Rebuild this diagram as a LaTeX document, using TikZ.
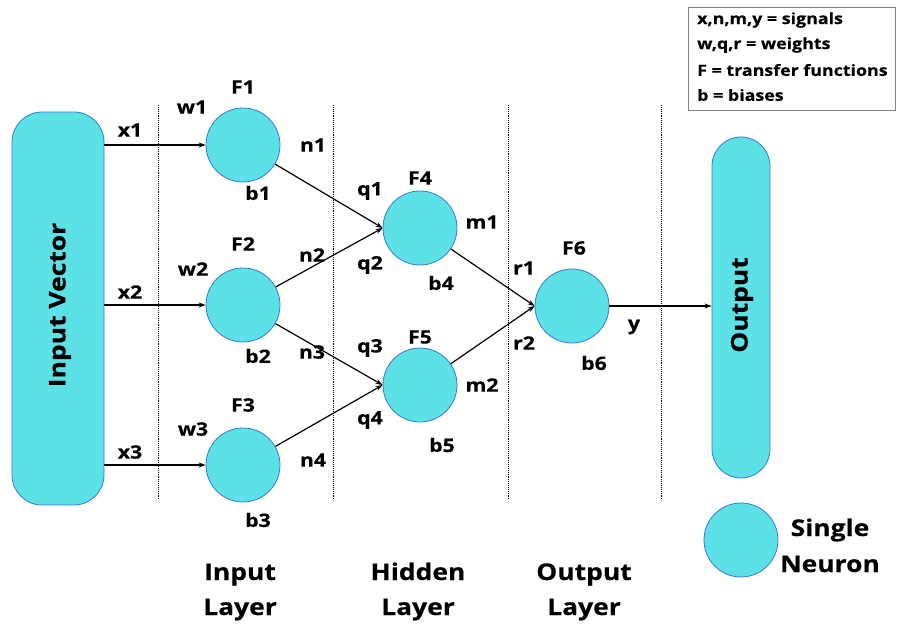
\documentclass[tikz,border=0pt]{standalone}
\usepackage{fontspec}
\setmainfont[FakeStretch=1.15,BoldFeatures={FakeBold=0.4}]{Open Sans}
\usetikzlibrary{arrows.meta}
\definecolor{neu}{HTML}{5CE1E6}
\definecolor{edge}{HTML}{3A78D0}
\begin{document}
\begin{tikzpicture}[x=1pt,y=-1pt,
  neuron/.style={circle,fill=neu,draw=edge,line width=0.8pt,minimum size=74pt,inner sep=0pt},
  lbl/.style={font=\bfseries\fontsize{18.5}{21}\selectfont,inner sep=0pt},
  leg/.style={font=\bfseries\fontsize{15.5}{19}\selectfont,inner sep=0pt},
  big/.style={font=\bfseries\fontsize{23}{26}\selectfont,inner sep=0pt},
  conn/.style={line width=1.2pt,-{Stealth[length=7pt,width=5pt]}},
  sep/.style={densely dotted,line width=0.9pt},
  box/.style={fill=neu,draw=edge,line width=0.8pt}]
\useasboundingbox (0,0) rectangle (897,624);
% legend box
\node[draw=gray,line width=0.8pt,minimum width=207pt,minimum height=103pt,inner sep=0pt] (leg) at (791.5,58.5) {};
\node[leg,anchor=west] (l1) at (697,20) {x,n,m,y = signals};
\node[leg,anchor=west] (l2) at (697,45) {w,q,r = weights};
\node[leg,anchor=west] (l3) at (697,70) {F = transfer functions};
\node[leg,anchor=west] (l4) at (697,95) {b = biases};
% separators
\foreach \x/\n in {158/s1,333/s2,508/s3,661/s4}{
  \coordinate (\n a) at (\x,105); \coordinate (\n b) at (\x,500);
  \draw[sep] (\n a) -- (\n b);}
% input vector
\node[box,rounded corners=30pt,minimum width=92pt,minimum height=393pt,inner sep=0pt] (in) at (58,308.5) {};
\node[big,rotate=90] (inT) at (60,305) {Input Vector};
% output
\node[box,rounded corners=29pt,minimum width=58pt,minimum height=341pt,inner sep=0pt] (out) at (741,307.5) {};
\node[big,rotate=90] (outT) at (742,305) {Output};
% neurons
\node[neuron] (F1) at (243,145) {};
\node[neuron] (F2) at (243,305) {};
\node[neuron] (F3) at (243,465) {};
\node[neuron] (F4) at (420,228) {};
\node[neuron] (F5) at (420,385) {};
\node[neuron] (F6) at (572,306) {};
\node[neuron] (L) at (741,540) {};
\node[big,anchor=base] (Lt1) at (830,536) {Single};
\node[big,anchor=base] (Lt2) at (830,572) {Neuron};
% connectors
\coordinate (i1) at (104,145); \coordinate (i2) at (104,305); \coordinate (i3) at (104,465);
\draw[conn] (i1) -- (F1.west);
\draw[conn] (i2) -- (F2.west);
\draw[conn] (i3) -- (F3.west);
\draw[conn] (F1) -- (F4.west);
\draw[conn] (F2) -- (F4.west);
\draw[conn] (F2) -- (F5.west);
\draw[conn] (F3) -- (F5.west);
\draw[conn] (F4) -- (F6.west);
\draw[conn] (F5) -- (F6.west);
\draw[conn] (F6.east) -- (F6.east -| out.west);
% labels
\node[lbl] (x1) at (130,130) {x1};
\node[lbl] (x2) at (130,292) {x2};
\node[lbl] (x3) at (130,452) {x3};
\node[lbl] (w1) at (192,107) {w1};
\node[lbl] (w2) at (193,269) {w2};
\node[lbl] (w3) at (193,429) {w3};
\node[lbl] (f1) at (243,87) {F1};
\node[lbl] (f2) at (243,244) {F2};
\node[lbl] (f3) at (243,405) {F3};
\node[lbl] (b1) at (258,193) {b1};
\node[lbl] (b2) at (258,356) {b2};
\node[lbl] (b3) at (258,520) {b3};
\node[lbl] (n1) at (313,145) {n1};
\node[lbl] (n2) at (312,255) {n2};
\node[lbl] (n3) at (312,352) {n3};
\node[lbl] (n4) at (313,460) {n4};
\node[lbl] (q1) at (370,191) {q1};
\node[lbl] (q2) at (370,265) {q2};
\node[lbl] (q3) at (370,348) {q3};
\node[lbl] (q4) at (370,420) {q4};
\node[lbl] (f4) at (420,178) {F4};
\node[lbl] (f5) at (420,337) {F5};
\node[lbl] (b4) at (441,283) {b4};
\node[lbl] (b5) at (442,445) {b5};
\node[lbl] (m1) at (482,222) {m1};
\node[lbl] (m2) at (482,385) {m2};
\node[lbl] (r1) at (524,268) {r1};
\node[lbl] (r2) at (524,343) {r2};
\node[lbl] (f6) at (574,248) {F6};
\node[lbl] (b6) at (594,363) {b6};
\node[lbl] (y) at (634,327) {y};
% layer labels
\node[big,anchor=base] (la1a) at (240,580) {Input};
\node[big,anchor=base] (la1b) at (240,615) {Layer};
\node[big,anchor=base] (la2a) at (418,580) {Hidden};
\node[big,anchor=base] (la2b) at (418,615) {Layer};
\node[big,anchor=base] (la3a) at (584,580) {Output};
\node[big,anchor=base] (la3b) at (584,615) {Layer};
\end{tikzpicture}
\end{document}
